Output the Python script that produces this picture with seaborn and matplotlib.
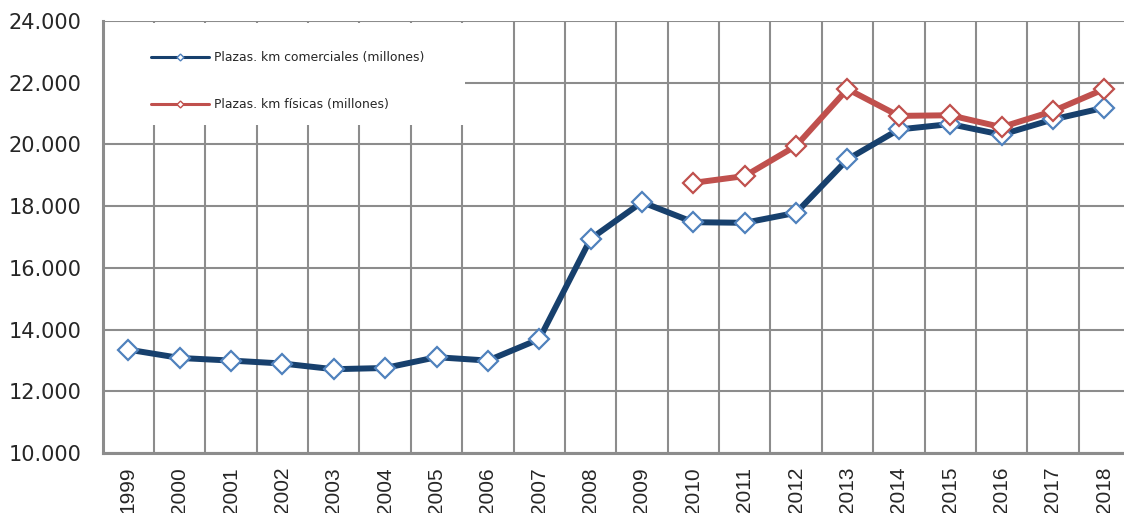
import numpy as np
import pandas as pd
import seaborn as sns
import matplotlib.pyplot as plt
from matplotlib.lines import Line2D
from matplotlib.patches import Rectangle
from matplotlib.ticker import FuncFormatter, FixedLocator

years = list(range(1999, 2019))
comerciales = [13350, 13080, 12995, 12900, 12715, 12755, 13105, 12995, 13690,
               16940, 18130, 17480, 17460, 17785, 19515, 20485, 20660, 20315,
               20810, 21190]
fisicas_years = list(range(2010, 2019))
fisicas = [18755, 18975, 19955, 21795, 20925, 20945, 20560, 21080, 21795]

label_com = 'Plazas. km comerciales (millones)'
label_fis = 'Plazas. km físicas (millones)'

blue_line = '#17406D'
blue_edge = '#4F81BD'
red_line = '#C0504D'
grid_col = '#8C8C8C'

sns.set_style('white')
plt.rcParams['font.family'] = ['DejaVu Sans']

fig = plt.figure(figsize=(11.24, 5.13), dpi=100)
ax = fig.add_axes([102.6 / 1124, 1 - 453 / 513, 1027.4 / 1124, 432 / 513])

pos_com = [years.index(y) for y in years]
pos_fis = [years.index(y) for y in fisicas_years]

sns.lineplot(x=pos_com, y=comerciales, ax=ax, color=blue_line, lw=4.3,
             marker='D', markersize=10.5, markerfacecolor='white',
             markeredgecolor=blue_edge, markeredgewidth=1.6, zorder=3)
sns.lineplot(x=pos_fis, y=fisicas, ax=ax, color=red_line, lw=4.3,
             marker='D', markersize=10.5, markerfacecolor='white',
             markeredgecolor=red_line, markeredgewidth=1.6, zorder=4)

ax.set_xlim(-0.5, len(years) - 0.5)
ax.set_ylim(10000, 24000)
ax.set_yticks(np.arange(10000, 24001, 2000))
ax.yaxis.set_major_formatter(FuncFormatter(lambda v, p: f'{v:,.0f}'.replace(',', '.')))

ax.set_xticks(range(len(years)))
ax.set_xticklabels([str(y) for y in years], rotation=90, fontsize=15,
                   family='Liberation Sans', va='top')
ax.xaxis.set_minor_locator(FixedLocator(np.arange(-0.5, len(years), 1)))
ax.tick_params(axis='x', which='major', length=0, pad=10)
ax.tick_params(axis='x', which='minor', length=5, width=1.5, color=grid_col)
ax.tick_params(axis='y', length=5, width=1.5, color=grid_col, labelsize=15, pad=10)

ax.grid(False)
ax.grid(True, axis='x', which='minor', color=grid_col, lw=1.5)
ax.grid(True, axis='y', which='major', color=grid_col, lw=1.5)
ax.set_axisbelow(True)

for s in ['top', 'right']:
    ax.spines[s].set_visible(False)
for s in ['left', 'bottom']:
    ax.spines[s].set_color(grid_col)
    ax.spines[s].set_linewidth(2.2)

# white legend box covering grid
ax.add_patch(Rectangle((0.002, (453 - 125) / 432), (463 - 103) / 1027.4, (125 - 23) / 432,
                       transform=ax.transAxes, facecolor='white', edgecolor='none', zorder=2.5))

handles = [
    Line2D([], [], color=blue_line, lw=2.2, marker='D', markersize=3.5,
           markerfacecolor='white', markeredgecolor=blue_edge, markeredgewidth=1),
    Line2D([], [], color=red_line, lw=2.2, marker='D', markersize=3.5,
           markerfacecolor='white', markeredgecolor=red_line, markeredgewidth=1),
]
leg = ax.legend(handles, [label_com, label_fis], loc='upper left',
                bbox_to_anchor=((151 - 102.6) / 1027.4, (453 - 51) / 432),
                frameon=False, fontsize=8.9, handlelength=4.7, handletextpad=0.4,
                labelspacing=2.75, borderpad=0, borderaxespad=0)
leg.set_zorder(5)

fig.savefig('out.png', dpi=100)
